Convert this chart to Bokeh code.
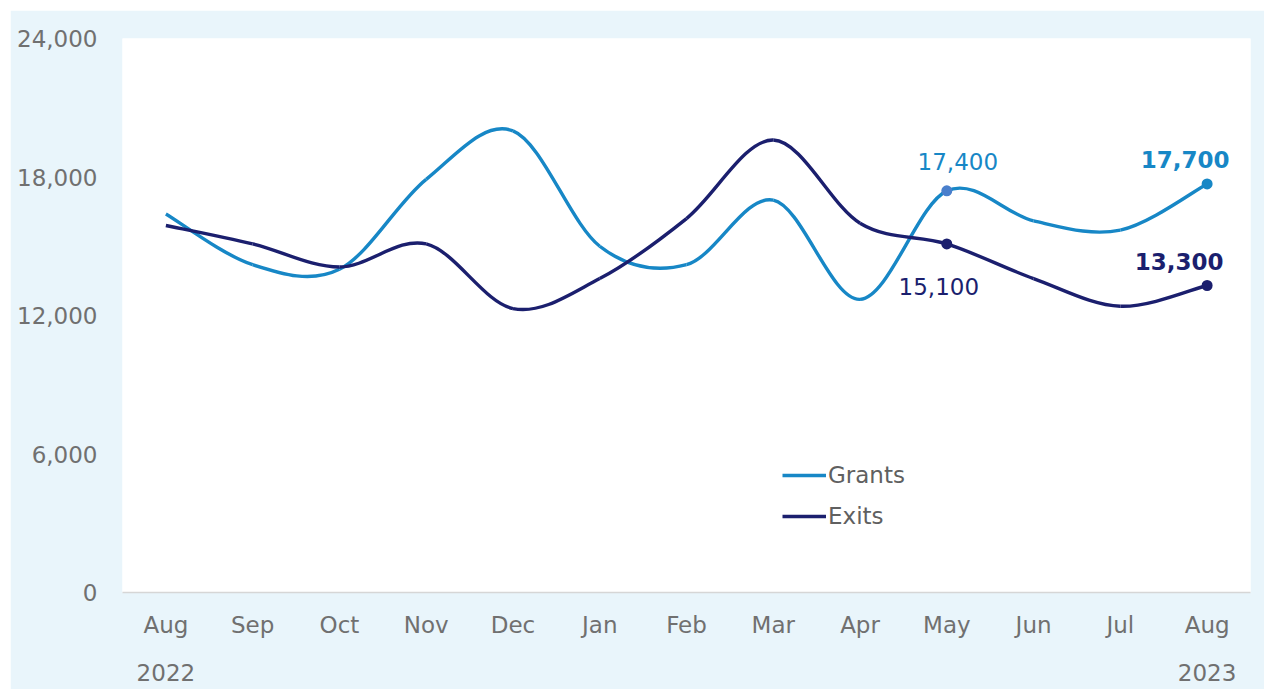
import numpy as np
from bokeh.plotting import figure
from bokeh.models import (Range1d, FixedTicker, LinearAxis, Legend, LegendItem,
                          ColumnDataSource, NumeralTickFormatter)
from bokeh.core.properties import value
from bokeh.embed import file_html
from bokeh.resources import INLINE

# ---- data ----
months = ["Aug", "Sep", "Oct", "Nov", "Dec", "Jan", "Feb", "Mar", "Apr", "May", "Jun", "Jul", "Aug"]
year_labels = ["2022", "2023"]
grants = [16400, 14200, 14000, 17900, 20000, 15000, 14200, 17000, 12700, 17400, 16100, 15700, 17700]
exits = [15900, 15100, 14100, 15100, 12300, 13600, 16200, 19600, 16000, 15100, 13600, 12400, 13300]
y_ticks = [0, 6000, 12000, 18000, 24000]

FONT = "DejaVu Sans"
GRANTS_C = "#1787c6"
GRANTS_PT = "#4a7fcc"
EXITS_C = "#1b1f6e"
TEXT_C = "#707070"
BG = "#e9f5fb"

xs = [i + 0.5 for i in range(len(months))]


def bezier_source(x, y):
    n = len(x)
    d = dict(x0=[], y0=[], x1=[], y1=[], cx0=[], cy0=[], cx1=[], cy1=[])
    for i in range(n - 1):
        i0 = max(i - 1, 0)
        i3 = min(i + 2, n - 1)
        d["x0"].append(x[i]); d["y0"].append(y[i])
        d["x1"].append(x[i + 1]); d["y1"].append(y[i + 1])
        d["cx0"].append(x[i] + (x[i + 1] - x[i0]) / 6)
        d["cy0"].append(y[i] + (y[i + 1] - y[i0]) / 6)
        d["cx1"].append(x[i + 1] - (x[i3] - x[i]) / 6)
        d["cy1"].append(y[i + 1] - (y[i3] - y[i]) / 6)
    return ColumnDataSource(d)


p = figure(width=1254, height=679, output_backend="svg", toolbar_location=None,
           x_range=Range1d(0, len(months)), y_range=Range1d(0, 24000),
           x_axis_type=None, y_axis_type=None,
           min_border_left=112, min_border_right=14, min_border_top=28, min_border_bottom=97)
p.margin = (10, 0, 0, 10)
p.background_fill_color = "white"
p.border_fill_color = BG
p.outline_line_color = None
p.xgrid.visible = False
p.ygrid.visible = False

# y axis
yax = LinearAxis(ticker=FixedTicker(ticks=y_ticks), formatter=NumeralTickFormatter(format="0,0"))
yax.axis_line_color = None
yax.major_tick_line_color = None
yax.minor_tick_line_color = None
yax.major_tick_out = 0
yax.major_tick_in = 0
yax.major_label_standoff = 25
yax.major_label_text_font = FONT
yax.major_label_text_font_size = "23px"
yax.major_label_text_color = TEXT_C
p.add_layout(yax, "left")

# month axis
xax = LinearAxis(ticker=FixedTicker(ticks=xs),
                 major_label_overrides={x: m for x, m in zip(xs, months)})
xax.axis_line_color = "#d6d6d6"
xax.axis_line_width = 1.5
xax.major_tick_line_color = None
xax.minor_tick_line_color = None
xax.major_tick_out = 0
xax.major_tick_in = 0
xax.major_label_standoff = 19
xax.major_label_text_font = FONT
xax.major_label_text_font_size = "23px"
xax.major_label_text_color = TEXT_C
p.add_layout(xax, "below")

# year axis
yr_ticks = [xs[0], xs[-1]]
yrax = LinearAxis(ticker=FixedTicker(ticks=yr_ticks),
                  major_label_overrides={x: y for x, y in zip(yr_ticks, year_labels)})
yrax.axis_line_color = None
yrax.major_tick_line_color = None
yrax.minor_tick_line_color = None
yrax.major_tick_out = 0
yrax.major_tick_in = 0
yrax.major_label_standoff = 23
yrax.major_label_text_font = FONT
yrax.major_label_text_font_size = "23px"
yrax.major_label_text_color = TEXT_C
p.add_layout(yrax, "below")

# smoothed lines
rg = p.bezier(x0="x0", y0="y0", x1="x1", y1="y1", cx0="cx0", cy0="cy0", cx1="cx1", cy1="cy1",
              source=bezier_source(xs, grants), line_color=GRANTS_C, line_width=3.4)
re = p.bezier(x0="x0", y0="y0", x1="x1", y1="y1", cx0="cx0", cy0="cy0", cx1="cx1", cy1="cy1",
              source=bezier_source(xs, exits), line_color=EXITS_C, line_width=3.4)

# highlighted points (May 2023 and Aug 2023)
idx = [9, 12]
p.scatter([xs[i] for i in idx], [grants[i] for i in idx], size=11,
          fill_color=[GRANTS_PT, GRANTS_C], line_color=None)
p.scatter([xs[i] for i in idx], [exits[i] for i in idx], size=11,
          fill_color=EXITS_C, line_color=None)

# data labels
def fmt(v):
    return f"{v:,}"

p.text([xs[9]], [grants[9]], text=[fmt(grants[9])], x_offset=11, y_offset=-29,
       text_align="center", text_baseline="middle", text_font=value(FONT),
       text_font_size="23px", text_color=GRANTS_C)
p.text([xs[12]], [grants[12]], text=[fmt(grants[12])], x_offset=-22, y_offset=-24,
       text_align="center", text_baseline="middle", text_font=value(FONT),
       text_font_size="23px", text_font_style="bold", text_color=GRANTS_C)
p.text([xs[9]], [exits[9]], text=[fmt(exits[9])], x_offset=-8, y_offset=43,
       text_align="center", text_baseline="middle", text_font=value(FONT),
       text_font_size="23px", text_color=EXITS_C)
p.text([xs[12]], [exits[12]], text=[fmt(exits[12])], x_offset=-28, y_offset=-24,
       text_align="center", text_baseline="middle", text_font=value(FONT),
       text_font_size="23px", text_font_style="bold", text_color=EXITS_C)

legend = Legend(items=[LegendItem(label="Grants", renderers=[rg]),
                       LegendItem(label="Exits", renderers=[re])],
                location=(660, 63), padding=0, margin=0, spacing=15,
                glyph_width=44, glyph_height=20, label_standoff=2,
                label_text_font=FONT, label_text_font_size="23px",
                label_text_color="#606060",
                background_fill_alpha=0, border_line_color=None)
p.add_layout(legend)

open("out.html", "w").write(file_html(p, INLINE))
